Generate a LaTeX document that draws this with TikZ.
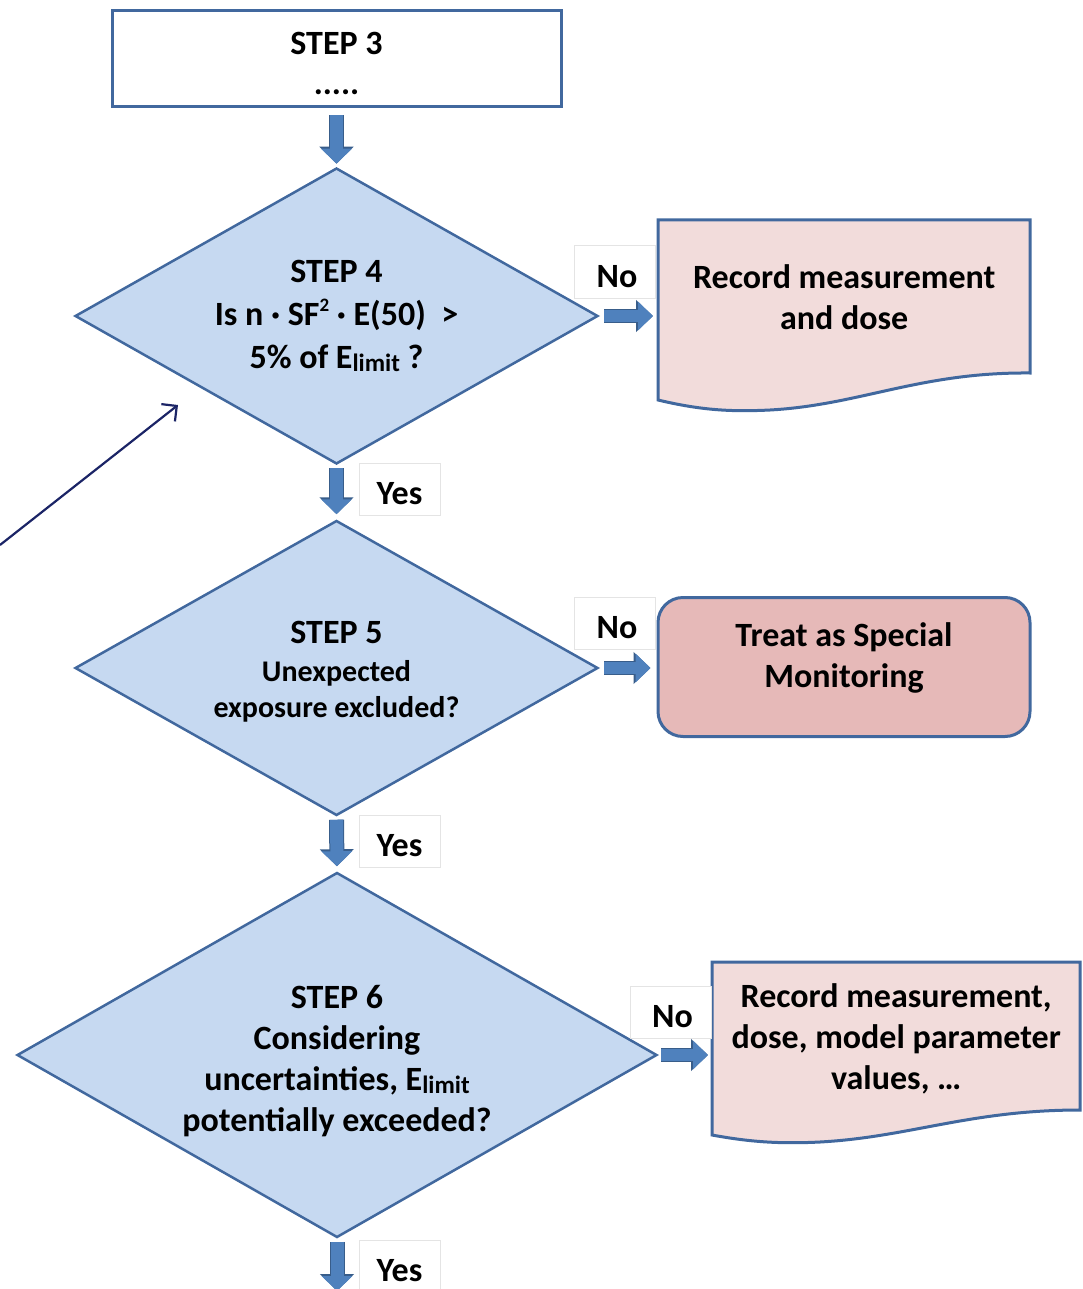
\documentclass[tikz,border=0pt]{standalone}
\usepackage{fontspec}
\setmainfont{Carlito}[UprightFont=*-Bold]
\usetikzlibrary{shapes.geometric,arrows.meta}
\definecolor{dfill}{HTML}{C6D9F1}
\definecolor{bdr}{HTML}{41689E}
\definecolor{docfill}{HTML}{F2DCDB}
\definecolor{spfill}{HTML}{E6B9B8}
\definecolor{arrfill}{HTML}{4F81BD}
\definecolor{arredge}{HTML}{385D8A}
\definecolor{navyc}{HTML}{1B2466}
\definecolor{lblgray}{HTML}{E4E4E4}
\newcommand{\upstrut}[1]{\rule{0pt}{#1}}
\newcommand{\supsmall}[1]{\raisebox{14pt}{\fontsize{19pt}{19pt}\selectfont #1}}
\newcommand{\subsmall}[1]{\raisebox{-3pt}{\fontsize{25pt}{25pt}\selectfont #1}}
\begin{document}
\begin{tikzpicture}[x=1pt,y=-1pt,
  big/.style={font=\fontsize{34pt}{41pt}\selectfont},
  box/.style={draw=bdr, line width=3pt, fill=white, align=center, big, inner sep=0pt},
  dia/.style={diamond, draw=bdr, line width=2.5pt, fill=dfill, align=center, big, inner sep=0pt},
  docshape/.style={draw=bdr, line width=3pt, fill=docfill},
  doctext/.style={align=center, big, inner sep=0pt},
  spbox/.style={draw=bdr, line width=3pt, fill=spfill, rounded corners=25pt, align=center, big, inner sep=0pt},
  lbl/.style={draw=lblgray, line width=1pt, fill=white, big, text height=31pt, minimum width=81pt, minimum height=52pt, inner sep=0pt},
  dbarrow/.style={line width=13pt, draw=arrfill, -{Triangle[width=30pt,length=15pt]},
     preaction={draw=arredge, line width=15pt, -{Triangle[width=33pt,length=17pt]}}},
  rbarrow/.style={line width=12pt, draw=arrfill, -{Triangle[width=28pt,length=15pt]},
     preaction={draw=arredge, line width=14pt, -{Triangle[width=31pt,length=17pt]}}},
  navyarrow/.style={draw=navyc, line width=2.2pt, -{Straight Barb[length=11pt,width=22pt]}}
]
\useasboundingbox (0,0) rectangle (1082,1289);

% STEP 3
\node[box, minimum width=449pt, minimum height=96pt] (s3) at (336.5,59) {\upstrut{31.5pt}STEP 3\\[-1pt].....};

% STEP 4
\node[dia, minimum width=523pt, minimum height=296pt, aspect=1.77, font=\fontsize{34pt}{43pt}\selectfont] (d4) at (336.5,316)
  {\upstrut{23pt}STEP 4\\Is n · SF\supsmall{2} · E(50)~~>\\5\% of E\subsmall{limit} ?};

% STEP 5
\node[dia, minimum width=523pt, minimum height=295pt, aspect=1.77] (d5) at (336.5,668)
  {\upstrut{29.5pt}STEP 5\\[-3pt]{\fontsize{30pt}{36pt}\selectfont Unexpected}\\[-5pt]{\fontsize{30pt}{36pt}\selectfont exposure excluded?}};

% STEP 6
\node[dia, minimum width=640pt, minimum height=365pt, aspect=1.75] (d6) at (337,1055)
  {\upstrut{34.5pt}STEP 6\\Considering\\uncertainties, E\subsmall{limit}\\potentially exceeded?};

% Document 1
\path[docshape] (658,220) -- (1030,220) -- (1030,373)
  .. controls (920,372) and (860,405) .. (770,410)
  .. controls (730,412) and (700,410) .. (658,400) -- cycle;
\node[doctext, minimum width=372pt, minimum height=153pt, anchor=north west] (doc1) at (658,220)
  {Record measurement\\and dose};

% Special monitoring
\node[spbox, minimum width=372pt, minimum height=139pt] (sp) at (844,667)
  {Treat as Special\\Monitoring\\[-18pt]\mbox{}};

% Document 3
\path[docshape] (712,962) -- (1080,962) -- (1080,1110)
  .. controls (970,1110) and (910,1137) .. (820,1142)
  .. controls (780,1144) and (750,1142) .. (712,1135) -- cycle;
\node[doctext, minimum width=368pt, minimum height=148pt, anchor=north west] (doc3) at (712,962)
  {\upstrut{28.5pt}Record measurement,\\dose, model parameter\\values, \dots};

% labels
\node[lbl] (no1) at (614.5,272) {\hspace{5pt}No};
\node[lbl] (no2) at (614.5,623) {\hspace{5pt}No};
\node[lbl] (no3) at (670.5,1012) {\hspace{4pt}No};
\node[lbl] (yes1) at (399.5,489) {Yes};
\node[lbl] (yes2) at (399.5,841) {Yes};
\node[lbl] (yes3) at (399.5,1266) {Yes};

% bottom free end
\coordinate (bend) at (337,1291);

% block arrows
\draw[dbarrow, shorten <=7pt, shorten >=3pt] (s3.south) -- (d4.north);
\draw[dbarrow, shorten <=3pt, shorten >=5pt] (d4.south) -- (d5.north);
\draw[dbarrow, shorten <=3pt, shorten >=5pt] (d5.south) -- (d6.north);
\draw[dbarrow, shorten <=3pt] (d6.south) -- (bend);
\draw[rbarrow, shorten <=5pt, shorten >=5pt] (d4.east) -- (d4.east -| doc1.west);
\draw[rbarrow, shorten <=5pt, shorten >=6pt] (d5.east) -- (d5.east -| sp.west);
\draw[rbarrow, shorten <=3pt, shorten >=4pt] (d6.east) -- (d6.east -| doc3.west);

% navy arrow
\coordinate (n0) at (0,545);
\coordinate (n1) at (178,405);
\draw[navyarrow] (n0) -- (n1);
\end{tikzpicture}
\end{document}
